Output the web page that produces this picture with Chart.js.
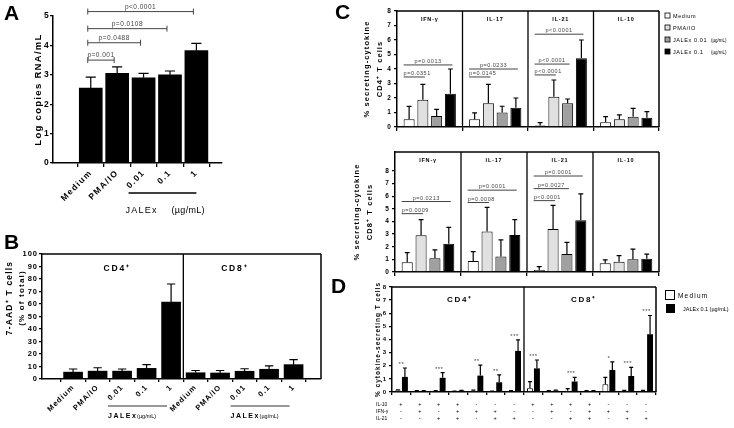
<!DOCTYPE html>
<html>
<head>
<meta charset="utf-8">
<script src="https://cdn.jsdelivr.net/npm/chart.js@4.4.1/dist/chart.umd.min.js"></script>
<style>
  body { margin: 0; background: #fff; }
  #fig { position: relative; width: 734px; height: 428px; overflow: hidden; background: #fff; }
  #fig canvas { position: absolute; }
</style>
</head>
<body>
<div id="fig">
  <canvas id="chartA" width="245" height="225" style="left:0;top:0"></canvas>
  <canvas id="chartB" width="330" height="203" style="left:0;top:225px"></canvas>
  <canvas id="chartC1" width="404" height="135" style="left:330px;top:0"></canvas>
  <canvas id="chartC2" width="404" height="143" style="left:330px;top:135px"></canvas>
  <canvas id="chartD" width="404" height="150" style="left:330px;top:278px"></canvas>
</div>
<script>
//---------------- data A ----------------
const catsA = ['Medium', 'PMA/IO', '0.01', '0.1', '1'];
const rnaA = [2.55, 3.05, 2.9, 3.0, 3.82];
const rnaSdA = [0.37, 0.22, 0.15, 0.13, 0.25];
// [from, to, y, text]
const pA = [[0, 1, 3.5, 'p=0.001'], [0, 2, 4.09, 'p=0.0488'], [0, 3, 4.57, 'p=0.0108'], [0, 4, 5.15, 'p<0.0001']];

//---------------- data B ----------------
const catsB = ['Medium', 'PMA/IO', '0.01', '0.1', '1', 'Medium', 'PMA/IO', '0.01', '0.1', '1'];
const aadB = [5.5, 6.3, 6.3, 8.5, 61.5, 5, 4.8, 6.2, 7.8, 11.5];
const aadSdB = [2.5, 2.7, 1.7, 3, 14.5, 1.8, 2, 2, 2.7, 4];

//---------------- data C ----------------
const catsC = ['IFN-γ', 'IL-17', 'IL-21', 'IL-10'];
const seriesC = ['Medium', 'PMA/IO', 'JALEx 0.01', 'JALEx 0.1'];
const colorsC = ['#ffffff', '#e0e0e0', '#a0a0a0', '#000000'];
// CD4+
const mediumC4 = [0.53, 0.53, 0.1, 0.32];
const pmaC4 = [1.88, 1.63, 2.09, 0.53];
const j001C4 = [0.76, 1.0, 1.63, 0.71];
const j01C4 = [2.3, 1.33, 4.74, 0.64];
const mediumSdC4 = [0.89, 0.44, 0.2, 0.39];
const pmaSdC4 = [1.06, 1.31, 1.15, 0.3];
const j001SdC4 = [0.46, 0.43, 0.3, 0.58];
const j01SdC4 = [1.7, 0.67, 1.26, 0.42];
// [facet, from, to, y, text]
const pC4 = [[0, 0, 1, 3.45, 'p=0.0351'], [0, 0, 3, 4.28, 'p=0.0013'],
             [1, 0, 1, 3.45, 'p=0.0145'], [1, 0, 3, 4.0, 'p=0.0233'],
             [2, 0, 3, 6.4, 'p<0.0001'], [2, 0, 2, 4.34, 'p<0.0001'], [2, 0, 1, 3.59, 'p<0.0001']];
// CD8+
const mediumC8 = [0.77, 0.88, 0.15, 0.69];
const pmaC8 = [2.9, 3.21, 3.4, 0.82];
const j001C8 = [1.09, 1.22, 1.43, 1.01];
const j01C8 = [2.23, 2.92, 4.09, 1.04];
const mediumSdC8 = [0.77, 0.74, 0.27, 0.27];
const pmaSdC8 = [1.24, 1.91, 1.88, 0.48];
const j001SdC8 = [0.66, 1.33, 0.91, 0.8];
const j01SdC8 = [1.3, 1.22, 2.1, 0.37];
const pC8 = [[0, 0, 3, 5.58, 'p=0.0213'], [0, 0, 1, 4.62, 'p=0.0009'],
             [1, 0, 3, 6.48, 'p=0.0001'], [1, 0, 1, 5.5, 'p=0.0008'],
             [2, 0, 3, 7.6, 'p=0.0001'], [2, 0, 2, 6.6, 'p=0.0027'], [2, 0, 1, 5.65, 'p<0.0001']];

//---------------- data D ----------------
const rowsD = ['IL-10', 'IFN-γ', 'IL-21'];
const il10D = ['+', '+', '+', '+', '-', '-', '-'];
const ifnD = ['-', '+', '-', '+', '+', '+', '-'];
const il21D = ['-', '-', '+', '+', '-', '+', '+'];
const mediumD = [0.12, 0.08, 0.08, 0.05, 0.1, 0.04, 0.08, 0.28, 0.08, 0.1, 0.08, 0.59, 0.08, 0.08];
const mediumSdD = [0.04, 0.03, 0.03, 0.02, 0.04, 0.02, 0.03, 0.51, 0.03, 0.15, 0.03, 0.53, 0.04, 0.04];
const jalexD = [1.15, 0.08, 1.08, 0.1, 1.25, 0.74, 3.13, 1.8, 0.1, 0.8, 0.08, 1.68, 1.22, 4.4];
const jalexSdD = [0.68, 0.03, 0.4, 0.03, 0.8, 0.56, 0.84, 0.64, 0.05, 0.32, 0.03, 0.61, 0.66, 1.43];
const starsD = ['**', '', '***', '', '**', '**', '***', '***', '', '***', '', '*', '***', '***'];

//---------------- helpers ----------------
const FONT = "'Liberation Sans', Arial, sans-serif";
Chart.defaults.font.family = FONT;
Chart.defaults.color = '#000';
Chart.defaults.animation = false;
Chart.defaults.responsive = false;
Chart.defaults.plugins.legend.display = false;
Chart.defaults.plugins.tooltip.enabled = false;

function txt(ctx, s, x, y, o = {}) {
    ctx.save();
    ctx.font = (o.weight || 'normal') + ' ' + (o.size || 8) + 'px ' + FONT;
    ctx.letterSpacing = (o.ls || 0) + 'px';
    ctx.fillStyle = o.color || '#000';
    ctx.textAlign = o.align || 'left';
    ctx.textBaseline = o.base || 'alphabetic';
    ctx.translate(x, y);
    if (o.rot) ctx.rotate(o.rot);
    ctx.fillText(s, 0, 0);
    ctx.restore();
}
function seg(ctx, x1, y1, x2, y2, w, c) {
    ctx.save();
    ctx.strokeStyle = c || '#000';
    ctx.lineWidth = w || 1;
    ctx.beginPath();
    ctx.moveTo(x1, y1);
    ctx.lineTo(x2, y2);
    ctx.stroke();
    ctx.restore();
}
const spacing = px => ({ id: 'spacing', beforeDraw(chart) { chart.ctx.letterSpacing = px + 'px'; } });

const errBars = {
    id: 'errBars',
    afterDatasetsDraw(chart) {
        const ctx = chart.ctx, ys = chart.scales.y;
        chart.data.datasets.forEach((ds, d) => {
            if (!ds.sd) return;
            chart.getDatasetMeta(d).data.forEach((bar, i) => {
                const raw = ds.data[i];
                const v = typeof raw === 'object' ? raw.y : raw;
                const top = ys.getPixelForValue(v + ds.sd[i]);
                const cap = Math.max(2, bar.width * 0.22);
                ctx.save();
                ctx.strokeStyle = '#000';
                ctx.lineWidth = 1.2;
                ctx.beginPath();
                ctx.moveTo(bar.x, bar.y);
                ctx.lineTo(bar.x, top);
                ctx.moveTo(bar.x - cap, top);
                ctx.lineTo(bar.x + cap, top);
                ctx.stroke();
                ctx.restore();
            });
        });
    }
};

const axisGrid = len => ({ drawOnChartArea: false, tickLength: len, color: '#000', lineWidth: 1.3 });
const axisBorder = { color: '#000', width: 1.5 };

//---------------------------- panel A ----------------------------
const decoA = {
    id: 'decoA',
    afterDraw(chart) {
        const { ctx, scales: { x, y } } = chart;
        txt(ctx, 'A', 4, 20, { size: 21, weight: 'bold' });
        pA.forEach(([i, j, v, t]) => {
            const x1 = x.getPixelForValue(i) - 3, x2 = x.getPixelForValue(j) - 3, yy = y.getPixelForValue(v);
            seg(ctx, x1, yy, x2, yy, 1, '#444');
            seg(ctx, x1, yy - 3, x1, yy + 3, 1, '#444');
            seg(ctx, x2, yy - 3, x2, yy + 3, 1, '#444');
            txt(ctx, t, (x1 + x2) / 2, yy - 3, { size: 6.5, align: 'center', color: '#444', ls: 0.5 });
        });
        const l1 = x.getPixelForValue(2) - 15, l2 = x.getPixelForValue(4);
        seg(ctx, l1, 193, l2, 193, 1.5);
        txt(ctx, 'JALEx', l1 - 3, 213, { size: 9, ls: 1.2 });
        txt(ctx, '(µg/mL)', l1 + 43, 213, { size: 9, ls: 0.3 });
    }
};
new Chart(document.getElementById('chartA'), {
    type: 'bar',
    data: {
        datasets: [{
            data: rnaA.map((v, i) => ({ x: i, y: v })),
            sd: rnaSdA,
            backgroundColor: '#000',
            barThickness: 23,
        }]
    },
    options: {
        layout: { padding: { top: 16, right: 23, left: 0, bottom: 0 } },
        scales: {
            x: {
                type: 'linear', min: -0.79, max: 4.33,
                afterBuildTicks: s => { s.ticks = catsA.map((c, i) => ({ value: i })); },
                afterFit: s => { s.height = 62; },
                ticks: { callback: v => catsA[v], minRotation: 45, maxRotation: 45, font: { size: 8.5, weight: 'bold' }, padding: 1 },
                grid: axisGrid(4),
                border: axisBorder,
            },
            y: {
                min: 0, max: 5,
                afterFit: s => { s.width = 53; },
                ticks: { stepSize: 1, font: { size: 8.5, weight: 'bold' }, padding: 0 },
                grid: axisGrid(3),
                border: axisBorder,
                title: { display: true, text: 'Log copies RNA/mL', font: { size: 9.5, weight: 'bold', lineHeight: '12px' }, padding: { top: 32, bottom: 0 } },
            },
        },
    },
    plugins: [spacing(1.3), errBars, decoA]
});

//---------------------------- panel B ----------------------------
const decoB = {
    id: 'decoB',
    afterDraw(chart) {
        const { ctx, chartArea: a, scales: { x } } = chart;
        txt(ctx, 'B', 4, 24, { size: 21, weight: 'bold' });
        seg(ctx, a.left, a.top, a.right, a.top, 1.5);
        seg(ctx, a.right, a.top, a.right, a.bottom, 1.5);
        const mid = x.getPixelForValue(4.5);
        seg(ctx, mid, a.top, mid, a.bottom, 1.3);
        txt(ctx, 'CD4⁺', x.getPixelForValue(1.8), a.top + 17, { size: 8.5, weight: 'bold', align: 'center', ls: 1.8 });
        txt(ctx, 'CD8⁺', x.getPixelForValue(6.6), a.top + 17, { size: 8.5, weight: 'bold', align: 'center', ls: 1.8 });
        [2, 7].forEach(k => {
            const l1 = x.getPixelForValue(k) - 14, l2 = x.getPixelForValue(k + 2) - 4;
            seg(ctx, l1, 181, l2, 181, 1.2, '#333');
            txt(ctx, 'JALEx', l1, 193, { size: 7, weight: 'bold', ls: 1.5 });
            txt(ctx, '(µg/mL)', l1 + 29, 193, { size: 5.5 });
        });
        txt(ctx, '7-AAD⁺ T cells', 12, 73, { size: 8.5, weight: 'bold', ls: 1.2, align: 'center', rot: -Math.PI / 2 });
        txt(ctx, '(% of total)', 24, 73, { size: 8, weight: 'bold', ls: 1.2, align: 'center', rot: -Math.PI / 2 });
    }
};
new Chart(document.getElementById('chartB'), {
    type: 'bar',
    data: {
        datasets: [{
            data: aadB.map((v, i) => ({ x: i, y: v })),
            sd: aadSdB,
            backgroundColor: '#000',
            barThickness: 19,
        }]
    },
    options: {
        layout: { padding: { top: 29, right: 9, left: 0, bottom: 0 } },
        scales: {
            x: {
                type: 'linear', min: -0.7, max: 9.55,
                afterBuildTicks: s => { s.ticks = catsB.map((c, i) => ({ value: i })); },
                afterFit: s => { s.height = 49; },
                ticks: { callback: v => catsB[v], minRotation: 45, maxRotation: 45, font: { size: 7.5, weight: 'bold' }, padding: 1 },
                grid: axisGrid(3),
                border: axisBorder,
            },
            y: {
                min: 0, max: 100,
                afterFit: s => { s.width = 42; },
                ticks: { stepSize: 10, font: { size: 7.5, weight: 'bold' }, padding: 1 },
                grid: axisGrid(3),
                border: axisBorder,
            },
        },
    },
    plugins: [spacing(1), errBars, decoB]
});

//---------------------------- panel C ----------------------------
const decoC = (o, pvals) => ({
    id: 'decoC',
    afterDraw(chart) {
        const { ctx, chartArea: a, scales: { x, y } } = chart;
        if (o.letter) txt(ctx, 'C', 5, 19, { size: 21, weight: 'bold' });
        seg(ctx, a.left, a.top, a.right, a.top, 1.5);
        seg(ctx, a.right, a.top, a.right, a.bottom, 1.5);
        for (let i = 0; i < catsC.length - 1; i++) {
            const xx = (x.getPixelForValue(i) + x.getPixelForValue(i + 1)) / 2;
            seg(ctx, xx, a.top, xx, a.bottom, 1.3);
        }
        catsC.forEach((c, i) => txt(ctx, c, x.getPixelForValue(i), a.top + 10, { size: 5.5, weight: 'bold', align: 'center', ls: 0.8 }));
        ctx.save();
        ctx.font = '5.5px ' + FONT;
        ctx.letterSpacing = '0.5px';
        pvals.forEach(([f, d1, d2, v, t]) => {
            const b1 = chart.getDatasetMeta(d1).data[f], b2 = chart.getDatasetMeta(d2).data[f];
            const x1 = b1.x - b1.width / 2, x2 = b2.x + 2, yy = y.getPixelForValue(v);
            seg(ctx, x1, yy, x2, yy, 1, '#444');
            const tw = ctx.measureText(t).width;
            txt(ctx, t, Math.max(x1, (x1 + x2) / 2 - tw / 2), yy - 2, { size: 5.5, color: '#444', ls: 0.5 });
        });
        ctx.restore();
        if (o.legend) {
            seriesC.forEach((s, k) => {
                const yy = 13 + k * 12;
                ctx.save();
                ctx.fillStyle = colorsC[k];
                ctx.fillRect(335, yy, 5, 5);
                ctx.strokeStyle = '#000';
                ctx.lineWidth = 0.8;
                ctx.strokeRect(335, yy, 5, 5);
                ctx.restore();
                txt(ctx, s, 343, yy + 5, { size: 5.5, ls: 0.6 });
                if (k > 1) txt(ctx, '(µg/mL)', 381, yy + 5, { size: 4.5 });
            });
        }
    }
});
function cChart(id, vals, sds, pvals, o) {
    return new Chart(document.getElementById(id), {
        type: 'bar',
        data: {
            labels: catsC,
            datasets: seriesC.map((name, k) => ({
                label: name,
                data: vals[k],
                sd: sds[k],
                backgroundColor: colorsC[k],
                borderColor: '#000',
                borderWidth: 1,
                categoryPercentage: 0.84,
                barPercentage: 0.8,
            }))
        },
        options: {
            layout: { padding: { top: o.top, right: 75, left: 0, bottom: 0 } },
            scales: {
                x: {
                    ticks: { display: false },
                    afterFit: s => { s.height = o.xh; },
                    grid: axisGrid(4),
                    border: axisBorder,
                },
                y: {
                    min: 0, max: o.max,
                    afterBuildTicks: s => { s.ticks = s.ticks.filter(t => Number.isInteger(t.value)); },
                    afterFit: s => { s.width = o.yw; },
                    ticks: { stepSize: 1, font: { size: 6.5, weight: 'bold' }, padding: 2 },
                    grid: axisGrid(3),
                    border: axisBorder,
                    title: { display: true, text: o.title, font: { size: 7.5, weight: 'bold', lineHeight: '13px' }, padding: { top: o.tpad, bottom: 0 } },
                },
            },
        },
        plugins: [spacing(1.1), errBars, decoC(o, pvals)]
    });
}
cChart('chartC1', [mediumC4, pmaC4, j001C4, j01C4], [mediumSdC4, pmaSdC4, j001SdC4, j01SdC4], pC4,
    { top: 11, xh: 8, yw: 67, max: 8, title: ['% secreting-cytokine', 'CD4⁺ T cells'], tpad: 30.5, letter: true, legend: true });
cChart('chartC2', [mediumC8, pmaC8, j001C8, j01C8], [mediumSdC8, pmaSdC8, j001SdC8, j01SdC8], pC8,
    { top: 17, xh: 6, yw: 65, max: 9.5, title: ['% secreting-cytokine', 'CD8⁺ T cells'], tpad: 20.5 });

//---------------------------- panel D ----------------------------
const labelsD = il10D.concat(il10D).map((s, i) => [s, ifnD[i % 7], il21D[i % 7]]);
const decoD = {
    id: 'decoD',
    afterDraw(chart) {
        const { ctx, chartArea: a, scales: { x, y } } = chart;
        txt(ctx, 'D', 1, 15, { size: 21, weight: 'bold' });
        seg(ctx, a.left, a.top, a.right, a.top, 1.5);
        seg(ctx, a.right, a.top, a.right, a.bottom, 1.5);
        const mid = (x.getPixelForValue(6) + x.getPixelForValue(7)) / 2;
        seg(ctx, mid, a.top, mid, a.bottom, 1.3);
        txt(ctx, 'CD4⁺', (a.left + mid) / 2 + 2, a.top + 15, { size: 8, weight: 'bold', align: 'center', ls: 1.8 });
        txt(ctx, 'CD8⁺', (mid + a.right) / 2 - 6, a.top + 15, { size: 8, weight: 'bold', align: 'center', ls: 1.8 });
        starsD.forEach((s, i) => {
            if (!s) return;
            const top = Math.min(y.getPixelForValue(mediumD[i] + mediumSdD[i]), y.getPixelForValue(jalexD[i] + jalexSdD[i]));
            txt(ctx, s, x.getPixelForValue(i), top - 2, { size: 6, align: 'center', color: '#444', ls: 0.5 });
        });
        rowsD.forEach((r, k) => txt(ctx, r, 46, a.bottom + 13 + k * 7, { size: 5, base: 'middle' }));
        ctx.save();
        ctx.strokeStyle = '#000';
        ctx.lineWidth = 1;
        ctx.strokeRect(335.5, 12.5, 9, 9);
        ctx.fillStyle = '#000';
        ctx.fillRect(336, 26, 9, 9);
        ctx.restore();
        txt(ctx, 'Medium', 348, 19.5, { size: 6.5, ls: 1.2 });
        txt(ctx, 'JALEx 0.1 (µg/mL)', 353, 33, { size: 5.5 });
    }
};
new Chart(document.getElementById('chartD'), {
    type: 'bar',
    data: {
        labels: labelsD,
        datasets: [{
            label: 'Medium',
            data: mediumD,
            sd: mediumSdD,
            backgroundColor: '#fff',
            borderColor: '#000',
            borderWidth: 1,
            categoryPercentage: 0.74,
            barPercentage: 0.85,
        }, {
            label: 'JALEx 0.1 (µg/mL)',
            data: jalexD,
            sd: jalexSdD,
            backgroundColor: '#000',
            categoryPercentage: 0.74,
            barPercentage: 0.85,
        }]
    },
    options: {
        layout: { padding: { top: 9, right: 78, left: 0, bottom: 0 } },
        scales: {
            x: {
                afterFit: s => { s.height = 36; },
                ticks: { autoSkip: false, maxRotation: 0, font: { size: 5.5, lineHeight: '7px' }, padding: 6 },
                grid: axisGrid(3),
                border: axisBorder,
            },
            y: {
                min: 0, max: 8,
                afterFit: s => { s.width = 62; },
                ticks: { stepSize: 1, font: { size: 6, weight: 'bold' }, padding: 2 },
                grid: axisGrid(3),
                border: axisBorder,
                title: { display: true, text: '% cytokine-secreting T cells', font: { size: 6.5, weight: 'bold', lineHeight: '8px' }, padding: { top: 44, bottom: 0 } },
            },
        },
    },
    plugins: [spacing(1), errBars, decoD]
});
</script>
</body>
</html>
